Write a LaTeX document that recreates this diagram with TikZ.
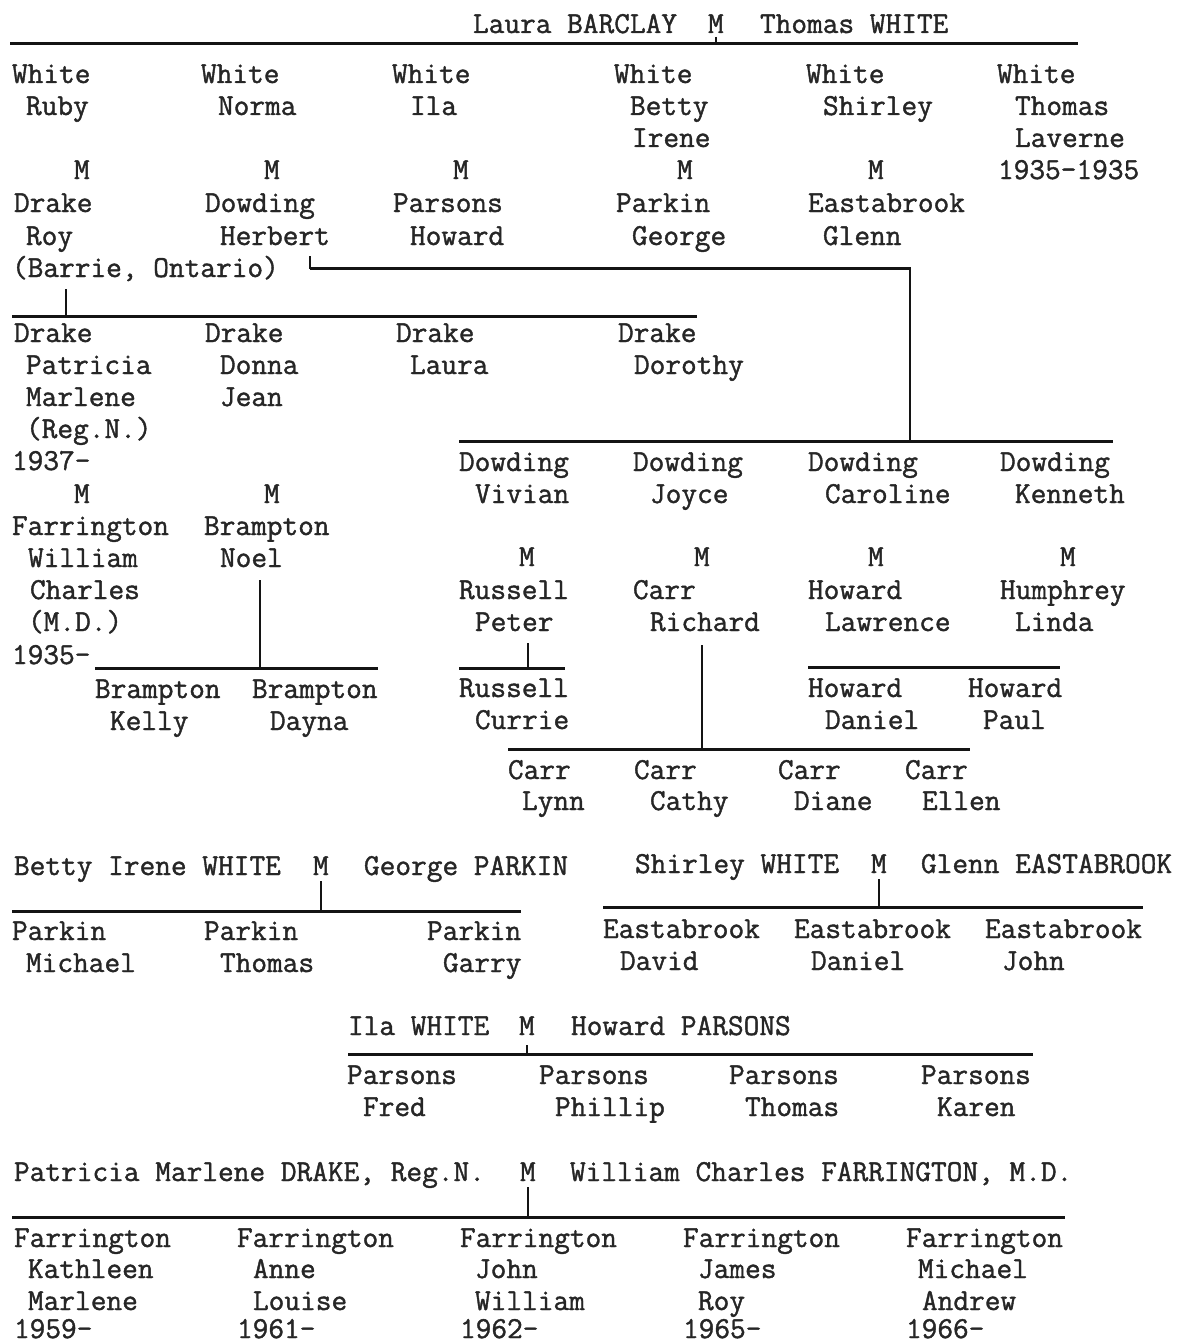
\documentclass[tikz,border=0pt]{standalone}
\usepackage{fontspec}
\newfontfamily\tw[FakeBold=1.3]{Latin Modern Mono}
\definecolor{ink}{RGB}{38,38,38}
\definecolor{rule}{RGB}{20,20,20}
\tikzset{
  txt/.style={anchor=base west, inner sep=0pt, outer sep=0pt, text=ink,
    font=\tw\fontsize{15.24pt}{16pt}\selectfont},
  hline/.style={draw=rule, line width=1.5pt},
  vline/.style={draw=rule, line width=1.2pt},
}
\newcommand\T[4]{\node[txt] (#1) at (#2,#3+9) {#4};}
\begin{document}
\begin{tikzpicture}[x=0.5pt,y=-0.5pt]
\useasboundingbox (0,0) rectangle (1178,1343);

% ---------- Top couple ----------
\T{tA}{473}{24}{Laura BARCLAY}
\T{mTop}{708}{24}{M}
\T{tB}{760}{24}{Thomas WHITE}
\coordinate (topL) at (10,44);
\coordinate (topR) at (1078,44);
\draw[hline] (topL) -- (topR);
\draw[vline] ([yshift=-2]mTop.south) -- (mTop.south |- topL);

% children of White
\T{w1}{12}{74}{White}\T{w2}{201}{74}{White}\T{w3}{392}{74}{White}
\T{w4}{614}{74}{White}\T{w5}{806}{74}{White}\T{w6}{997}{74}{White}
\T{ruby}{26}{106}{Ruby}\T{norma}{218}{106}{Norma}\T{ila}{410}{106}{Ila}
\T{betty}{630}{106}{Betty}\T{shirley}{823}{106}{Shirley}\T{thomas}{1015}{106}{Thomas}
\T{irene}{632}{138}{Irene}\T{laverne}{1015}{138}{Laverne}
\T{m1}{74}{170}{M}\T{m2}{264}{170}{M}\T{m3}{453}{170}{M}
\T{m4}{677}{170}{M}\T{m5}{868}{170}{M}\T{tdate}{998}{170}{1935-1935}
\T{sp1}{14}{203}{Drake}\T{sp2}{205}{203}{Dowding}\T{sp3}{393}{203}{Parsons}
\T{sp4}{616}{203}{Parkin}\T{sp5}{808}{203}{Eastabrook}
\T{roy}{26}{236}{Roy}\T{herbert}{220}{236}{Herbert}\T{howard}{410}{236}{Howard}
\T{george}{632}{236}{George}\T{glenn}{823}{236}{Glenn}
\T{barrie}{12}{268}{(Barrie, Ontario)}

% ---------- Drake children ----------
\coordinate (drL) at (12,316);
\coordinate (drR) at (697,316);
\coordinate (drJ) at (66,316);
\coordinate (drT) at (66,289);
\draw[hline] (drL) -- (drR);
\draw[vline] (drT) -- (drJ);
\T{d1}{14}{333}{Drake}\T{d2}{205}{333}{Drake}\T{d3}{396}{333}{Drake}\T{d4}{618}{333}{Drake}
\T{patricia}{26}{365}{Patricia}\T{donna}{220}{365}{Donna}\T{laura}{410}{365}{Laura}\T{dorothy}{634}{365}{Dorothy}
\T{marlene}{26}{397}{Marlene}\T{jean}{220}{397}{Jean}
\T{regn}{26}{429}{(Reg.N.)}
\T{pdate}{12}{461}{1937-}
\T{dm1}{74}{494}{M}\T{dm2}{264}{494}{M}
\T{farr}{12}{526}{Farrington}\T{bramp}{204}{526}{Brampton}
\T{william}{28}{558}{William}\T{noel}{220}{558}{Noel}
\T{charles}{30}{590}{Charles}
\T{md}{28}{622}{(M.D.)}
\T{wdate}{12}{655}{1935-}

% Brampton children
\coordinate (brL) at (95,668);
\coordinate (brR) at (378,668);
\coordinate (brJ) at (260,668);
\coordinate (brT) at (260,580);
\draw[hline] (brL) -- (brR);
\draw[vline] (brT) -- (brJ);
\T{b1}{95}{689}{Brampton}\T{b2}{252}{689}{Brampton}
\T{kelly}{110}{721}{Kelly}\T{dayna}{270}{721}{Dayna}

% ---------- Dowding children ----------
\coordinate (hbT) at (310,256);
\coordinate (hbC) at (310,268);
\coordinate (dwC) at (910,268);
\coordinate (dwJ) at (910,441);
\coordinate (dwL) at (459,441);
\coordinate (dwR) at (1113,441);
\draw[vline] (hbT) -- (hbC) -- (dwC) -- (dwJ);
\draw[hline] (hbC) -- (dwC);
\draw[hline] (dwL) -- (dwR);
\T{o1}{459}{462}{Dowding}\T{o2}{633}{462}{Dowding}\T{o3}{808}{462}{Dowding}\T{o4}{1000}{462}{Dowding}
\T{vivian}{475}{494}{Vivian}\T{joyce}{650}{494}{Joyce}\T{caroline}{825}{494}{Caroline}\T{kenneth}{1015}{494}{Kenneth}
\T{om1}{519}{557}{M}\T{om2}{694}{557}{M}\T{om3}{868}{557}{M}\T{om4}{1060}{557}{M}
\T{russell}{459}{590}{Russell}\T{carr}{633}{590}{Carr}\T{howard2}{808}{590}{Howard}\T{humphrey}{1000}{590}{Humphrey}
\T{peter}{475}{622}{Peter}\T{richard}{650}{622}{Richard}\T{lawrence}{825}{622}{Lawrence}\T{linda}{1015}{622}{Linda}

% Russell child
\coordinate (ruL) at (459,668);
\coordinate (ruR) at (565,668);
\coordinate (ruJ) at (528,668);
\coordinate (ruT) at (528,643);
\draw[hline] (ruL) -- (ruR);
\draw[vline] (ruT) -- (ruJ);
\T{r1}{459}{688}{Russell}\T{currie}{475}{720}{Currie}

% Howard children
\coordinate (hoL) at (808,667);
\coordinate (hoR) at (1060,667);
\draw[hline] (hoL) -- (hoR);
\T{h1}{808}{688}{Howard}\T{h2}{968}{688}{Howard}
\T{daniel}{825}{720}{Daniel}\T{paul}{983}{720}{Paul}

% Carr children
\coordinate (caL) at (508,749);
\coordinate (caR) at (970,749);
\coordinate (caJ) at (702,749);
\coordinate (caT) at (702,645);
\draw[hline] (caL) -- (caR);
\draw[vline] (caT) -- (caJ);
\T{c1}{508}{770}{Carr}\T{c2}{634}{770}{Carr}\T{c3}{778}{770}{Carr}\T{c4}{905}{770}{Carr}
\T{lynn}{522}{801}{Lynn}\T{cathy}{650}{801}{Cathy}\T{diane}{794}{801}{Diane}\T{ellen}{922}{801}{Ellen}

% ---------- Parkin family ----------
\T{pkA}{14}{866}{Betty Irene WHITE}
\T{pkM}{313}{866}{M}
\T{pkB}{364}{866}{George PARKIN}
\coordinate (pkL) at (12,911);
\coordinate (pkR) at (521,911);
\draw[hline] (pkL) -- (pkR);
\draw[vline] ([yshift=-3]pkM.south) -- (pkM.south |- pkL);
\T{pk1}{12}{931}{Parkin}\T{pk2}{204}{931}{Parkin}\T{pk3}{427}{931}{Parkin}
\T{michael}{26}{963}{Michael}\T{thomas2}{220}{963}{Thomas}\T{garry}{443}{963}{Garry}

% ---------- Eastabrook family ----------
\T{eaA}{635}{864}{Shirley WHITE}
\T{eaM}{871}{864}{M}
\T{eaB}{921}{864}{Glenn EASTABROOK}
\coordinate (eaL) at (603,907);
\coordinate (eaR) at (1143,907);
\draw[hline] (eaL) -- (eaR);
\draw[vline] ([yshift=-3]eaM.south) -- (eaM.south |- eaL);
\T{ea1}{603}{929}{Eastabrook}\T{ea2}{794}{929}{Eastabrook}\T{ea3}{985}{929}{Eastabrook}
\T{david}{620}{961}{David}\T{daniel2}{811}{961}{Daniel}\T{john}{1002}{961}{John}

% ---------- Parsons family ----------
\T{paA}{348}{1026}{Ila WHITE}
\T{paM}{519}{1026}{M}
\T{paB}{571}{1026}{Howard PARSONS}
\coordinate (paL) at (348,1054);
\coordinate (paR) at (1033,1054);
\draw[hline] (paL) -- (paR);
\draw[vline] ([yshift=-5]paM.south) -- (paM.south |- paL);
\T{pa1}{347}{1075}{Parsons}\T{pa2}{539}{1075}{Parsons}\T{pa3}{729}{1075}{Parsons}\T{pa4}{921}{1075}{Parsons}
\T{fred}{363}{1107}{Fred}\T{phillip}{555}{1107}{Phillip}\T{thomas3}{745}{1107}{Thomas}\T{karen}{937}{1107}{Karen}

% ---------- Farrington family ----------
\T{faA}{14}{1172}{Patricia Marlene DRAKE, Reg.N.}
\T{faM}{520}{1172}{M}
\T{faB}{570}{1172}{William Charles FARRINGTON, M.D.}
\coordinate (faL) at (12,1217);
\coordinate (faR) at (1065,1217);
\draw[hline] (faL) -- (faR);
\draw[vline] ([yshift=-3]faM.south) -- (faM.south |- faL);
\T{f1}{14}{1238}{Farrington}\T{f2}{237}{1238}{Farrington}\T{f3}{460}{1238}{Farrington}
\T{f4}{683}{1238}{Farrington}\T{f5}{906}{1238}{Farrington}
\T{kathleen}{28}{1269}{Kathleen}\T{anne}{253}{1269}{Anne}\T{john2}{475}{1269}{John}
\T{james}{698}{1269}{James}\T{michael2}{918}{1269}{Michael}
\T{marlene2}{28}{1301}{Marlene}\T{louise}{253}{1301}{Louise}\T{william2}{475}{1301}{William}
\T{roy2}{698}{1301}{Roy}\T{andrew}{922}{1301}{Andrew}
\T{fd1}{14}{1329}{1959-}\T{fd2}{237}{1329}{1961-}\T{fd3}{460}{1329}{1962-}
\T{fd4}{683}{1329}{1965-}\T{fd5}{906}{1329}{1966-}
\end{tikzpicture}
\end{document}
